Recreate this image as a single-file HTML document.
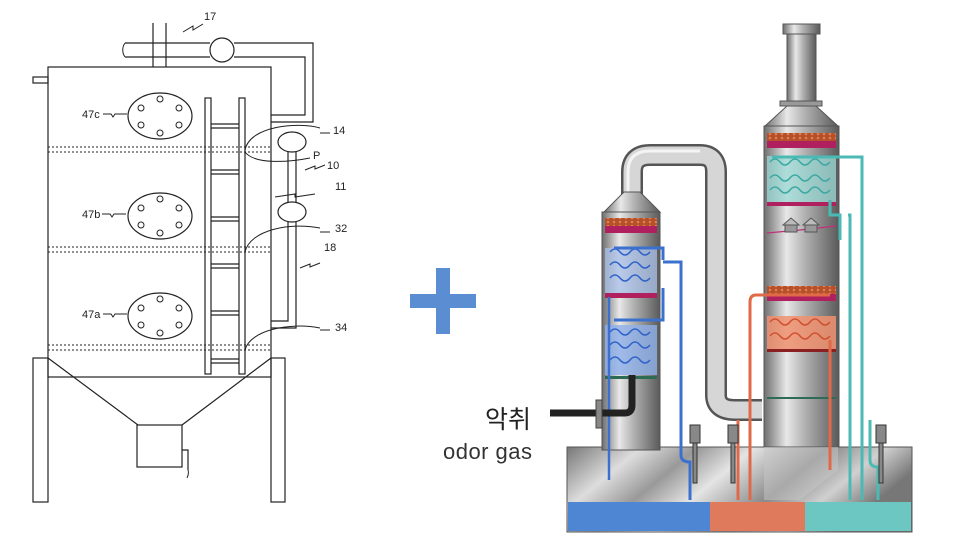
<!DOCTYPE html>
<html><head><meta charset="utf-8"><style>
html,body{margin:0;padding:0;background:#fff;}
svg{display:block;}
</style></head><body>
<svg width="960" height="554" viewBox="0 0 960 554" xmlns="http://www.w3.org/2000/svg">
<defs>
<linearGradient id="met" x1="0" x2="1" y1="0" y2="0">
<stop offset="0" stop-color="#6e6e6e"/><stop offset="0.3" stop-color="#e8e8e8"/><stop offset="0.55" stop-color="#b0b0b0"/><stop offset="1" stop-color="#5a5a5a"/>
</linearGradient>
<linearGradient id="base" x1="0" x2="1" y1="0" y2="0.3">
<stop offset="0" stop-color="#777"/><stop offset="0.2" stop-color="#ddd"/><stop offset="0.35" stop-color="#999"/><stop offset="0.5" stop-color="#e4e4e4"/><stop offset="0.7" stop-color="#8a8a8a"/><stop offset="0.85" stop-color="#d0d0d0"/><stop offset="1" stop-color="#777"/>
</linearGradient>
<pattern id="bricks" width="6" height="4" patternUnits="userSpaceOnUse"><rect width="6" height="4" fill="#b5502a"/><circle cx="2" cy="2" r="1.3" fill="#e08050"/></pattern>
</defs>

<!-- LEFT PATENT DRAWING -->
<g fill="none" stroke="#222" stroke-width="1.2">
<rect x="48" y="67" width="223" height="310"/>
<rect x="33" y="77" width="15" height="6"/>
<path d="M153 67 V23 M166 67 V23"/>
<path d="M125 43 H210 M234 43 H313 V122 H271 M125 57 H210 M234 57 H305 V115 H271"/>
<circle cx="222" cy="50" r="12"/>
<g>
<ellipse cx="160" cy="116" rx="32" ry="23"/>
<ellipse cx="160" cy="216" rx="32" ry="23"/>
<ellipse cx="160" cy="316" rx="32" ry="23"/>
</g>
<g stroke-width="1">
<circle cx="160" cy="99" r="3"/><circle cx="160" cy="133" r="3"/><circle cx="141" cy="108" r="3"/><circle cx="179" cy="108" r="3"/><circle cx="141" cy="125" r="3"/><circle cx="179" cy="125" r="3"/>
<circle cx="160" cy="199" r="3"/><circle cx="160" cy="233" r="3"/><circle cx="141" cy="208" r="3"/><circle cx="179" cy="208" r="3"/><circle cx="141" cy="225" r="3"/><circle cx="179" cy="225" r="3"/>
<circle cx="160" cy="299" r="3"/><circle cx="160" cy="333" r="3"/><circle cx="141" cy="308" r="3"/><circle cx="179" cy="308" r="3"/><circle cx="141" cy="325" r="3"/><circle cx="179" cy="325" r="3"/>
</g>
<rect x="205" y="98" width="6" height="276"/>
<rect x="239" y="98" width="6" height="276"/>
<path d="M211 124H239M211 128H239M211 170H239M211 174H239M211 217H239M211 221H239M211 264H239M211 268H239M211 311H239M211 315H239M211 359H239M211 363H239"/>
<g stroke-dasharray="2,2" stroke-width="1"><path d="M48 147H271M48 152H271M48 247H271M48 252H271M48 345H271M48 350H271"/></g>
<ellipse cx="292" cy="142" rx="14" ry="10"/>
<ellipse cx="292" cy="212" rx="14" ry="10"/>
<path d="M288 152V202M296 152V202M288 222V321H271M296 222V328H271"/>
<rect x="33" y="358" width="15" height="144"/>
<rect x="271" y="358" width="14" height="144"/>
<path d="M48 358L138 425M271 358L182 425"/>
<rect x="137" y="425" width="45" height="42"/>
<path d="M182 450H188V470"/>
<g stroke-width="1"><path d="M245 150C250 125 300 122 320 128M245 152C255 165 290 162 310 158M245 252C250 230 290 222 320 228M245 350C250 330 290 322 320 328"/></g>
<path d="M125 43C122 47 122 53 125 57M188 470c1 3 0 6-1 8" stroke-width="1"/>
<g stroke-width="1"><path d="M103 114h8l2 3 2-3h12M102 214h8l2 3 2-3h12M103 314h8l2 3 2-3h12M183 32l10-6 0 4 10-6M305 170l10-4v3l10-4M300 268l10-4v3l10-4M275 197l20-3v3l20-3M320 133h10M320 232h10M320 330h10"/></g>
</g>
<g font-family="Liberation Sans, sans-serif" font-size="11" fill="#222">
<text x="82" y="118">47c</text><text x="82" y="218">47b</text><text x="82" y="318">47a</text>
<text x="204" y="20">17</text><text x="333" y="134">14</text><text x="313" y="159">P</text>
<text x="327" y="169">10</text><text x="335" y="190">11</text><text x="335" y="232">32</text>
<text x="324" y="251">18</text><text x="335" y="331">34</text>
</g>

<!-- PLUS -->
<rect x="410" y="294" width="66" height="14" fill="#5b8dd3"/>
<rect x="436" y="268" width="14" height="66" fill="#5b8dd3"/>

<!-- TEXT -->
<text x="485" y="428" font-family="Liberation Sans, 'Noto Sans CJK KR', sans-serif" font-size="25" fill="#222">악취</text>
<text x="443" y="459" font-family="Liberation Sans, sans-serif" font-size="22" fill="#333" textLength="89">odor gas</text>

<!-- RIGHT ILLUSTRATION -->
<rect x="567" y="447" width="345" height="85" fill="url(#base)" stroke="#555"/>
<rect x="568" y="502" width="142" height="29" fill="#4f86d4"/>
<rect x="710" y="502" width="95" height="29" fill="#e07a5c"/>
<rect x="805" y="502" width="106" height="29" fill="#6cc7c2"/>

<path d="M632 195 V172 Q632 155 650 155 H700 Q716 155 716 172 V395 Q716 410 735 410 H762" fill="none" stroke="#555" stroke-width="22"/>
<path d="M632 195 V172 Q632 155 650 155 H700 Q716 155 716 172 V395 Q716 410 735 410 H762" fill="none" stroke="#d6d6d6" stroke-width="17"/>
<path d="M628 195 V172 Q628 151 650 151 H700" fill="none" stroke="#f4f4f4" stroke-width="3"/>

<polygon points="604,212 624,192 640,192 660,212" fill="url(#met)" stroke="#555"/>
<rect x="602" y="212" width="58" height="238" fill="url(#met)" stroke="#555"/>
<rect x="605" y="218" width="52" height="8" fill="url(#bricks)"/>
<rect x="605" y="226" width="52" height="7" fill="#b0205e"/>
<rect x="605" y="248" width="52" height="45" fill="#a9c0ea" opacity="0.75"/>
<rect x="605" y="293" width="52" height="5" fill="#b0205e"/>
<rect x="605" y="325" width="52" height="50" fill="#8fb0ea" opacity="0.8"/>
<rect x="605" y="376" width="52" height="3" fill="#2e6b55"/>
<path d="M610 252q5-6 10 0t10 0 10 0 10 0M610 265q5-6 10 0t10 0 10 0 10 0M610 278q5-6 10 0t10 0 10 0 10 0M610 332q5-6 10 0t10 0 10 0 10 0M610 345q5-6 10 0t10 0 10 0 10 0M610 360q5-6 10 0t10 0 10 0 10 0" stroke="#2f62c8" stroke-width="1.5" fill="none"/>
<path d="M614 248H663V260 M614 320H663 V288 M681 320V262H663 M681 320 V425" stroke="#3b70cf" stroke-width="3" fill="none"/>
<path d="M609 297V480" stroke="#3b70cf" stroke-width="2.5"/>
<path d="M681 425 V455 Q681 462 690 462 V500" stroke="#3b70cf" stroke-width="3" fill="none"/>
<path d="M550 413 H625 Q632 413 632 405 V375" stroke="#222" stroke-width="7" fill="none"/>
<rect x="596" y="400" width="6" height="28" fill="#888" stroke="#444"/>

<rect x="783" y="24" width="37" height="10" fill="url(#met)" stroke="#555"/>
<rect x="787" y="34" width="29" height="70" fill="url(#met)" stroke="#555"/>
<rect x="780" y="101" width="42" height="5" fill="#999" stroke="#555"/>
<polygon points="765,126 787,106 816,106 838,126" fill="url(#met)" stroke="#555"/>
<rect x="764" y="126" width="75" height="321" fill="url(#met)" stroke="#555"/>
<rect x="767" y="133" width="69" height="8" fill="url(#bricks)"/>
<rect x="767" y="141" width="69" height="7" fill="#b0205e"/>
<rect x="767" y="156" width="69" height="46" fill="#9ad8d4" opacity="0.75"/>
<rect x="767" y="202" width="69" height="4" fill="#b0205e"/>
<path d="M767 233 L800 230 L836 226" stroke="#c0307a" stroke-width="1.2" fill="none"/>
<rect x="785" y="224" width="12" height="8" fill="#999" stroke="#555"/><polygon points="783,225 791,218 799,225" fill="#bbb" stroke="#555"/>
<rect x="805" y="224" width="12" height="8" fill="#999" stroke="#555"/><polygon points="803,225 811,218 819,225" fill="#bbb" stroke="#555"/>
<rect x="767" y="286" width="69" height="8" fill="url(#bricks)"/>
<rect x="767" y="294" width="69" height="7" fill="#b0205e"/>
<rect x="767" y="316" width="69" height="33" fill="#f0906e" opacity="0.85"/>
<rect x="767" y="349" width="69" height="3" fill="#8a2020"/>
<rect x="767" y="397" width="69" height="2" fill="#2e6b55"/>
<path d="M770 162q5-6 10 0t10 0 10 0 10 0 10 0 10 0M770 178q5-6 10 0t10 0 10 0 10 0 10 0 10 0M770 190q5-6 10 0t10 0 10 0 10 0 10 0 10 0" stroke="#3aa9a3" stroke-width="1.5" fill="none"/>
<path d="M770 322q5-6 10 0t10 0 10 0 10 0 10 0 10 0M770 336q5-6 10 0t10 0 10 0 10 0 10 0 10 0" stroke="#d0502e" stroke-width="1.5" fill="none"/>
<path d="M764 447 H838 V470 L800 500 H764 Z" fill="#c8c8c8" opacity="0.5"/>
<path d="M772 157 H862 V500 M830 200 V215 H840 V240 M848 215 H850 V500" stroke="#4bbab4" stroke-width="3" fill="none"/>
<path d="M870 420 V460 Q870 467 878 467 V500" stroke="#4bbab4" stroke-width="3" fill="none"/>
<path d="M830 295 H756 Q750 295 750 302 V500 M830 340 V470" stroke="#e06a48" stroke-width="3" fill="none"/>
<path d="M738 420 V470 V500" stroke="#e06a48" stroke-width="3" fill="none"/>
<g fill="#888" stroke="#333" stroke-width="1">
<rect x="690" y="425" width="10" height="18"/><rect x="693" y="443" width="4" height="40"/>
<rect x="728" y="425" width="10" height="18"/><rect x="731" y="443" width="4" height="40"/>
<rect x="876" y="425" width="10" height="18"/><rect x="879" y="443" width="4" height="40"/>
</g>
</svg>
</body></html>
